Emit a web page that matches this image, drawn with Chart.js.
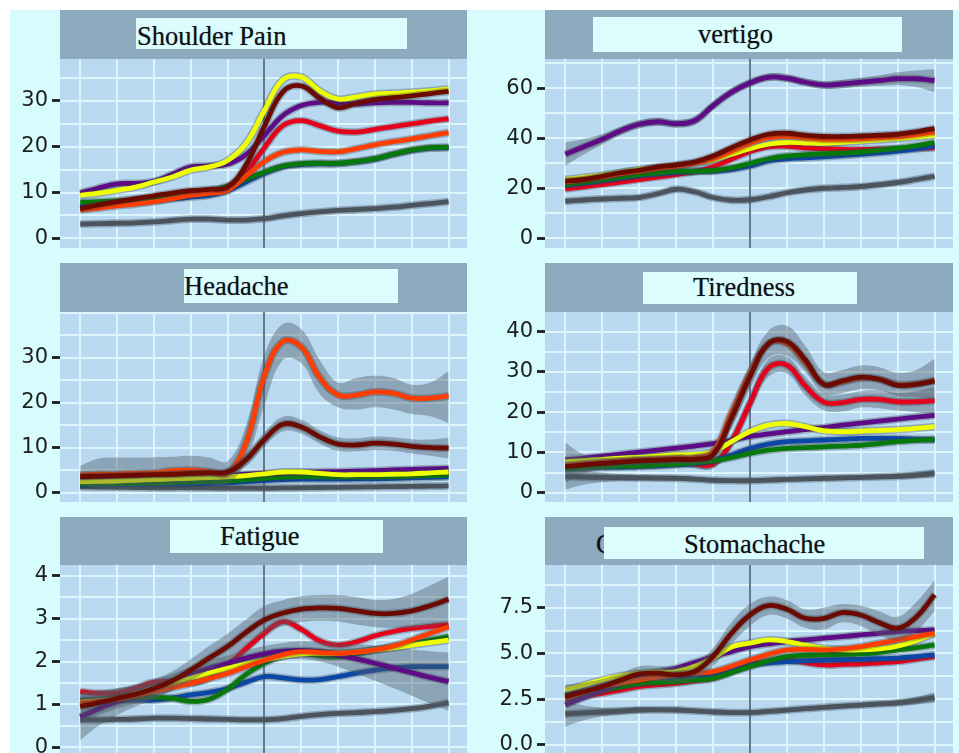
<!DOCTYPE html>
<html>
<head>
<meta charset="utf-8">
<script src="https://cdn.jsdelivr.net/npm/chart.js@4.4.0/dist/chart.umd.min.js"></script>
<style>
  html, body { margin: 0; padding: 0; }
  body { width: 959px; height: 753px; position: relative; overflow: hidden; background: #d7fcfd; }
  .edge { position: absolute; background: #ffffff; }
  .strip { position: absolute; background: #8eaabf; }
  .box { position: absolute; background: #dbfdfe; }
  .title { position: absolute; font-family: 'Liberation Serif', 'Times New Roman', serif; font-size: 26.5px;
           line-height: 1; color: #0f0f14; white-space: nowrap; text-shadow: 0 0 1px rgba(0,0,0,0.45); }
  canvas { position: absolute; }
</style>
</head>
<body>
<div class="edge" style="left:0;top:0;width:959px;height:10px"></div>
<div class="edge" style="left:0;top:0;width:10px;height:753px"></div>

<script>
// x positions shared by every curve (time axis, centred event at 5)
const xs = [0, 0.5, 1, 1.5, 2, 2.5, 3, 3.5, 4, 4.5, 5, 5.5, 6, 6.5, 7, 7.5, 8, 8.5, 9, 9.5, 10];

// groups in drawing order, bottom first
const groups = ['grey', 'red', 'blue', 'green', 'purple', 'yellow', 'orange', 'maroon'];

// ---- Shoulder Pain ----
const shoulderTicks  = [0, 10, 20, 30];
const shoulderGrey   = [3.1,3.2,3.3,3.4,3.6,3.9,4.2,4.2,4.0,4.0,4.3,4.9,5.4,5.8,6.1,6.3,6.5,6.8,7.2,7.6,8.0];
const shoulderRed    = [6.5,7.0,7.6,8.2,8.8,9.3,9.8,10.2,10.9,14.5,19.8,24.6,25.7,24.6,23.4,23.2,23.8,24.4,25.0,25.6,26.1];
const shoulderBlue   = [6.9,7.2,7.5,7.8,8.2,8.6,9.0,9.4,10.4,12.3,14.2,15.6,16.1,16.3,16.3,16.7,17.3,18.3,19.2,19.7,19.8];
const shoulderGreen  = [7.9,8.0,8.2,8.4,8.7,9.2,9.7,10.4,11.4,12.9,14.5,15.8,16.3,16.4,16.4,16.8,17.4,18.4,19.3,19.8,19.9];
const shoulderPurple = [9.9,11.0,11.9,12.0,12.4,14.0,15.6,15.8,16.2,18.3,22.5,26.8,29.0,29.7,29.5,29.3,29.6,29.7,29.7,29.6,29.6];
const shoulderYellow = [9.4,9.9,10.5,11.2,12.3,13.4,14.9,15.6,17.0,20.7,27.9,34.6,35.2,32.2,30.4,30.9,31.5,31.7,31.9,32.2,32.6];
const shoulderOrange = [6.2,6.6,7.1,7.5,8.0,8.7,9.4,9.8,10.5,13.6,16.8,18.8,19.3,19.0,18.9,19.6,20.4,21.1,21.7,22.4,23.1];
const shoulderMaroon = [6.5,7.3,8.0,8.7,9.3,9.9,10.4,10.7,11.2,16.0,24.5,32.0,33.3,30.6,28.5,29.5,30.3,30.7,31.1,31.6,32.1];

// ---- vertigo ----
const vertigoTicks  = [0, 20, 40, 60];
const vertigoGrey   = [14.8,15.3,15.7,16.0,16.3,17.8,19.6,18.6,16.3,15.2,15.4,16.6,18.2,19.3,20.0,20.3,20.7,21.4,22.3,23.5,24.8];
const vertigoRed    = [19.7,20.6,21.5,22.5,23.5,24.5,25.5,26.6,28.6,31.6,34.7,36.6,36.8,36.2,35.8,35.5,35.5,35.6,35.7,35.9,36.2];
const vertigoBlue   = [21.2,22.1,23.1,24.1,25.1,25.8,26.4,26.7,26.8,27.5,28.9,30.9,31.8,32.2,32.6,33.1,33.6,34.2,34.9,35.8,36.9];
const vertigoGreen  = [21.5,22.5,23.5,24.5,25.5,26.2,26.8,26.8,27.1,28.2,29.9,31.8,32.9,33.4,33.8,34.1,34.5,35.2,36.0,37.0,38.3];
const vertigoPurple = [33.6,36.6,39.6,43.0,45.6,46.6,45.8,47.0,53.0,58.4,62.1,64.4,64.0,62.4,61.3,61.7,62.4,63.1,63.8,63.8,63.1];
const vertigoYellow = [23.5,24.3,25.2,26.3,27.5,28.3,29.1,30.2,31.3,33.6,35.8,37.6,38.3,38.1,38.0,38.4,38.9,39.4,39.9,40.5,41.2];
const vertigoOrange = [22.5,23.4,24.5,25.8,26.8,28.0,28.8,29.9,31.8,34.8,38.0,40.2,40.8,40.2,39.6,39.6,39.8,40.2,40.7,41.5,42.5];
const vertigoMaroon = [22.8,23.5,24.8,26.2,27.2,28.5,29.3,30.5,32.9,36.2,39.3,41.6,42.0,41.2,40.7,40.7,40.9,41.2,41.6,42.6,43.9];
const vertigoPurpleLow  = [29.0,33.5,37.5,41.3,44.0,45.0,44.3,45.3,51.3,56.8,60.6,62.9,62.5,60.9,59.8,60.0,60.6,61.0,61.2,60.5,58.5];
const vertigoPurpleHigh = [38.3,39.7,41.7,44.7,47.2,48.2,47.3,48.7,54.7,60.0,63.6,65.9,65.5,63.9,62.8,63.4,64.2,65.2,66.4,67.1,67.7];

// ---- Headache ----
const headacheTicks  = [0, 10, 20, 30];
const headacheGrey   = [1.3,1.25,1.2,1.15,1.1,1.1,1.1,1.05,1.0,1.0,1.0,1.05,1.1,1.15,1.2,1.25,1.3,1.35,1.4,1.45,1.5];
const headacheRed    = [2.6,2.7,2.8,2.9,3.0,3.1,3.2,3.3,3.4,3.6,3.9,4.2,4.3,4.1,3.9,3.9,3.9,4.0,4.1,4.2,4.4];
const headacheBlue   = [1.7,1.75,1.8,1.85,1.9,1.95,2.0,2.1,2.2,2.45,2.7,2.9,3.0,3.0,3.0,3.05,3.1,3.2,3.3,3.4,3.5];
const headacheGreen  = [1.9,1.95,2.0,2.1,2.2,2.3,2.4,2.5,2.6,2.9,3.2,3.45,3.6,3.55,3.5,3.5,3.5,3.6,3.7,3.8,3.9];
const headachePurple = [2.8,2.9,3.0,3.15,3.3,3.45,3.6,3.75,3.9,4.1,4.3,4.4,4.5,4.6,4.7,4.8,4.9,5.05,5.2,5.3,5.4];
const headacheYellow = [2.4,2.5,2.6,2.75,2.9,3.05,3.2,3.35,3.5,3.8,4.2,4.6,4.6,4.3,4.0,4.0,4.0,4.1,4.2,4.4,4.6];
const headacheOrange = [3.9,4.1,4.1,4.3,4.4,4.9,5.0,4.7,4.4,11.0,26.0,33.6,32.4,25.6,21.7,21.7,22.4,22.1,21.0,21.0,21.5];
const headacheMaroon = [3.6,3.7,3.8,3.9,4.0,4.1,4.3,4.4,4.6,7.3,11.8,15.2,14.6,12.4,10.8,10.6,11.0,10.8,10.3,10.0,9.9];
const headacheOrangeLow  = [1.8,0.8,0.8,1.0,1.2,1.5,1.6,1.8,2.0,7.0,19.5,29.5,28.8,22.0,19.0,18.5,19.0,18.5,17.5,17.0,15.5];
const headacheOrangeHigh = [6.0,7.6,7.8,7.8,7.9,8.0,8.2,7.8,7.0,15.0,30.5,37.5,36.4,29.5,24.5,25.5,26.0,25.5,24.0,24.5,27.0];
const headacheMaroonLow  = [2.8,3.0,3.1,3.2,3.3,3.4,3.5,3.6,3.7,5.8,10.2,13.6,13.1,10.9,9.3,9.2,9.5,9.3,8.7,8.2,7.6];
const headacheMaroonHigh = [4.4,4.4,4.5,4.6,4.7,4.8,5.1,5.2,5.5,8.8,13.4,16.9,16.2,13.9,12.3,12.1,12.5,12.3,11.9,11.8,12.2];

// ---- Tiredness ----
const tirednessTicks  = [0, 10, 20, 30, 40];
const tirednessGrey   = [4.0,3.9,3.8,3.75,3.7,3.65,3.6,3.4,3.1,3.0,3.0,3.15,3.3,3.45,3.6,3.7,3.8,3.95,4.1,4.4,4.8];
const tirednessRed    = [6.9,7.1,7.5,7.7,7.9,8.0,7.7,7.1,7.1,12.7,22.2,31.0,31.7,26.5,22.5,22.4,23.2,23.2,22.6,22.6,22.9];
const tirednessBlue   = [6.0,6.15,6.3,6.4,6.5,6.7,6.9,7.3,7.9,9.4,11.0,12.1,12.7,12.9,13.1,13.3,13.5,13.5,13.5,13.3,13.1];
const tirednessGreen  = [6.0,6.25,6.5,6.6,6.7,6.9,7.1,7.5,7.9,8.7,9.8,10.6,11.0,11.2,11.4,11.6,11.8,12.2,12.7,13.0,13.3];
const tirednessPurple = [8.1,8.6,9.1,9.6,10.1,10.6,11.1,11.6,12.2,13.0,14.0,14.6,15.2,15.7,16.2,16.8,17.3,17.8,18.3,18.8,19.2];
const tirednessYellow = [7.7,8.0,8.3,8.6,8.8,9.1,9.4,9.5,10.2,12.7,15.2,16.8,17.2,16.4,15.4,15.2,15.3,15.5,15.7,16.0,16.4];
const tirednessOrange = [6.8,7.2,7.6,7.9,8.2,8.4,8.6,8.7,10.2,20.0,29.8,37.0,37.0,32.2,27.0,27.5,28.5,28.2,26.9,27.1,27.9];
const tirednessMaroon = [6.5,6.9,7.3,7.6,7.9,8.1,8.3,8.3,9.4,18.5,28.8,37.0,37.6,33.0,26.9,27.8,28.7,28.2,26.7,26.9,27.8];
const tirednessMaroonLow  = [2.5,4.8,5.8,6.4,6.8,7.0,7.2,7.2,8.0,16.0,25.8,33.5,34.0,30.0,24.5,24.8,25.8,25.5,24.0,23.8,23.0];
const tirednessMaroonHigh = [12.5,9.5,8.8,8.8,9.0,9.2,9.4,9.5,10.8,21.0,31.8,40.2,41.5,36.5,30.0,30.5,31.6,31.2,29.8,30.5,33.2];
const tirednessRedLow  = [5.0,5.9,6.5,6.8,7.0,7.1,6.8,6.1,6.0,11.0,20.3,28.8,29.6,24.2,20.5,20.2,21.2,21.0,20.4,20.0,19.5];
const tirednessRedHigh = [8.8,8.3,8.5,8.6,8.8,8.9,8.6,8.1,8.2,14.4,24.1,33.2,33.8,28.8,24.5,24.4,25.2,25.4,24.8,25.2,26.3];
const tirednessGreyLow  = [0.8,2.0,2.6,2.9,3.0,3.0,3.0,2.9,2.6,2.5,2.5,2.7,2.8,2.9,3.0,3.1,3.2,3.3,3.4,3.6,3.8];
const tirednessGreyHigh = [7.2,5.8,5.0,4.6,4.4,4.3,4.2,3.9,3.6,3.5,3.5,3.6,3.8,4.0,4.2,4.3,4.4,4.6,4.8,5.2,5.8];

// ---- Fatigue ----
const fatigueTicks  = [0, 1, 2, 3, 4];
const fatigueGrey   = [0.64,0.64,0.65,0.66,0.68,0.68,0.67,0.66,0.65,0.64,0.64,0.67,0.72,0.76,0.79,0.81,0.83,0.86,0.90,0.96,1.04];
const fatigueRed    = [1.30,1.26,1.27,1.38,1.52,1.53,1.50,1.62,1.92,2.30,2.66,2.93,2.75,2.48,2.38,2.46,2.60,2.70,2.77,2.82,2.86];
const fatigueBlue   = [1.10,1.10,1.10,1.10,1.10,1.15,1.22,1.28,1.37,1.52,1.65,1.62,1.57,1.58,1.65,1.73,1.80,1.85,1.88,1.88,1.88];
const fatigueGreen  = [1.06,1.10,1.14,1.17,1.17,1.14,1.07,1.12,1.35,1.70,1.96,2.13,2.19,2.13,2.11,2.18,2.27,2.35,2.42,2.50,2.58];
const fatiguePurple = [0.71,0.90,1.06,1.20,1.34,1.52,1.69,1.84,1.96,2.08,2.18,2.24,2.26,2.23,2.15,2.06,1.96,1.85,1.74,1.63,1.53];
const fatigueYellow = [1.06,1.09,1.14,1.25,1.37,1.49,1.61,1.73,1.84,1.94,2.03,2.12,2.18,2.19,2.19,2.22,2.27,2.32,2.38,2.44,2.50];
const fatigueOrange = [1.03,1.07,1.12,1.20,1.30,1.39,1.49,1.60,1.72,1.88,2.03,2.16,2.23,2.21,2.19,2.22,2.27,2.36,2.50,2.66,2.81];
const fatigueMaroon = [0.95,1.04,1.14,1.24,1.37,1.55,1.80,2.08,2.35,2.68,2.97,3.13,3.22,3.25,3.24,3.18,3.12,3.12,3.18,3.30,3.45];
const fatigueMaroonLow  = [0.60,0.75,0.90,1.02,1.15,1.33,1.55,1.80,2.05,2.38,2.65,2.83,2.92,2.95,2.93,2.86,2.80,2.78,2.78,2.83,2.90];
const fatigueMaroonHigh = [1.30,1.33,1.38,1.46,1.59,1.77,2.05,2.36,2.65,2.98,3.29,3.43,3.52,3.55,3.55,3.50,3.44,3.46,3.58,3.77,3.98];
const fatiguePurpleLow  = [0.17,0.50,0.75,0.95,1.12,1.32,1.50,1.65,1.78,1.90,2.00,2.05,2.05,2.00,1.88,1.72,1.55,1.38,1.20,1.02,0.85];
const fatiguePurpleHigh = [1.25,1.30,1.37,1.45,1.56,1.72,1.88,2.03,2.14,2.26,2.36,2.43,2.47,2.46,2.42,2.40,2.37,2.32,2.28,2.24,2.21];

// ---- Stomachache ----
const stomachTicks  = [0, 2.5, 5, 7.5];
const stomachGrey   = [1.69,1.75,1.80,1.85,1.91,1.92,1.91,1.86,1.80,1.77,1.77,1.83,1.90,1.98,2.05,2.12,2.18,2.24,2.30,2.42,2.59];
const stomachRed    = [2.46,2.64,2.82,3.00,3.19,3.28,3.37,3.50,3.64,4.00,4.37,4.55,4.64,4.50,4.37,4.40,4.43,4.49,4.55,4.69,4.83];
const stomachBlue   = [2.73,2.90,3.05,3.20,3.37,3.46,3.55,3.69,3.83,4.10,4.37,4.48,4.55,4.60,4.64,4.66,4.68,4.71,4.74,4.83,4.92];
const stomachGreen  = [2.64,2.82,3.00,3.19,3.37,3.42,3.46,3.55,3.64,3.95,4.28,4.60,4.83,4.90,4.92,4.95,4.97,5.06,5.19,5.32,5.46];
const stomachPurple = [2.19,2.60,3.00,3.38,3.73,3.98,4.19,4.50,4.83,5.10,5.37,5.52,5.65,5.74,5.83,5.92,6.01,6.10,6.19,6.24,6.28];
const stomachYellow = [3.00,3.28,3.55,3.78,3.92,3.98,4.01,4.28,4.74,5.35,5.56,5.74,5.65,5.45,5.28,5.20,5.19,5.25,5.40,5.70,6.10];
const stomachOrange = [2.55,2.87,3.19,3.38,3.55,3.70,3.83,3.92,4.01,4.30,4.64,4.95,5.19,5.22,5.19,5.25,5.37,5.55,5.74,5.92,6.10];
const stomachMaroon = [2.64,2.91,3.19,3.55,3.88,3.92,3.83,4.00,4.83,6.10,7.10,7.61,7.41,6.92,6.92,7.23,7.10,6.68,6.38,6.98,8.20];
const stomachMaroonLow  = [2.0,2.4,2.8,3.2,3.5,3.5,3.4,3.6,4.3,5.5,6.5,7.1,6.9,6.4,6.3,6.7,6.5,6.0,5.7,6.2,7.3];
const stomachMaroonHigh = [3.3,3.4,3.6,3.9,4.3,4.3,4.3,4.4,5.3,6.7,7.7,8.1,7.9,7.4,7.5,7.7,7.6,7.3,7.0,7.8,9.0];
const stomachGreyLow  = [1.0,1.35,1.55,1.65,1.75,1.78,1.78,1.74,1.68,1.65,1.65,1.70,1.78,1.86,1.93,2.00,2.06,2.10,2.14,2.22,2.30];
const stomachGreyHigh = [2.4,2.15,2.05,2.05,2.07,2.06,2.04,1.98,1.92,1.89,1.89,1.96,2.02,2.10,2.17,2.24,2.30,2.38,2.46,2.62,2.88];

// ---- styling ----
const groupColours = {
  grey: '#4b535c', red: '#e5001b', blue: '#0a47a6', green: '#07780a',
  purple: '#5e0b86', yellow: '#eeff00', orange: '#ff3d00', maroon: '#6a0a00'
};
const PANEL_BG = '#b9d9f1';
const GRID_COLOUR = '#dcf4fc';
const VLINE_COLOUR = '#66798a';
const BAND_FILL = 'rgba(78,90,102,0.42)';
const HALO = 'rgba(50,60,70,0.33)';
const TICK_COLOUR = '#1e1e1e';

// panel definitions: data links plus where each panel sits on the page
const panels = [
  { title: 'Shoulder Pain', ticks: shoulderTicks, step: 10, fmt: v => String(v),
    series: [shoulderGrey, shoulderRed, shoulderBlue, shoulderGreen, shoulderPurple, shoulderYellow, shoulderOrange, shoulderMaroon],
    bands: {},
    frame: { left: 0, top: 59, width: 467, height: 189, axis: 60, ymin: -2.1, ymax: 39.15 },
    strip: { left: 60, top: 10, width: 407, height: 49 },
    box: { left: 136, top: 18, width: 271, height: 31 },
    label: { left: 137, top: 23 } },
  { title: 'vertigo', ticks: vertigoTicks, step: 20, fmt: v => String(v),
    series: [vertigoGrey, vertigoRed, vertigoBlue, vertigoGreen, vertigoPurple, vertigoYellow, vertigoOrange, vertigoMaroon],
    bands: { purple: [vertigoPurpleLow, vertigoPurpleHigh] },
    frame: { left: 480, top: 59, width: 473, height: 189, axis: 65, ymin: -3.9, ymax: 71.7 },
    strip: { left: 545, top: 10, width: 408, height: 49 },
    box: { left: 593, top: 17, width: 309, height: 35 },
    label: { left: 698, top: 21 } },
  { title: 'Headache', ticks: headacheTicks, step: 10, fmt: v => String(v),
    series: [headacheGrey, headacheRed, headacheBlue, headacheGreen, headachePurple, headacheYellow, headacheOrange, headacheMaroon],
    bands: { orange: [headacheOrangeLow, headacheOrangeHigh], maroon: [headacheMaroonLow, headacheMaroonHigh] },
    frame: { left: 0, top: 312, width: 467, height: 190, axis: 60, ymin: -2.07, ymax: 40.15 },
    strip: { left: 60, top: 263, width: 407, height: 49 },
    box: { left: 184, top: 269, width: 214, height: 34 },
    label: { left: 184, top: 273 } },
  { title: 'Tiredness', ticks: tirednessTicks, step: 10, fmt: v => String(v),
    series: [tirednessGrey, tirednessRed, tirednessBlue, tirednessGreen, tirednessPurple, tirednessYellow, tirednessOrange, tirednessMaroon],
    bands: { maroon: [tirednessMaroonLow, tirednessMaroonHigh], red: [tirednessRedLow, tirednessRedHigh], grey: [tirednessGreyLow, tirednessGreyHigh] },
    frame: { left: 480, top: 312, width: 473, height: 190, axis: 65, ymin: -2.3, ymax: 44.9 },
    strip: { left: 545, top: 263, width: 408, height: 49 },
    box: { left: 643, top: 272, width: 214, height: 32 },
    label: { left: 693, top: 274 } },
  { title: 'Fatigue', ticks: fatigueTicks, step: 1, fmt: v => String(v),
    series: [fatigueGrey, fatigueRed, fatigueBlue, fatigueGreen, fatiguePurple, fatigueYellow, fatigueOrange, fatigueMaroon],
    bands: { maroon: [fatigueMaroonLow, fatigueMaroonHigh], purple: [fatiguePurpleLow, fatiguePurpleHigh] },
    frame: { left: 0, top: 565, width: 467, height: 188, axis: 60, ymin: -0.133, ymax: 4.25 },
    strip: { left: 60, top: 517, width: 407, height: 48 },
    box: { left: 170, top: 520, width: 213, height: 33 },
    label: { left: 220, top: 523 } },
  { title: 'Stomachache', ticks: stomachTicks, step: 2.5, fmt: v => v.toFixed(1),
    series: [stomachGrey, stomachRed, stomachBlue, stomachGreen, stomachPurple, stomachYellow, stomachOrange, stomachMaroon],
    bands: { maroon: [stomachMaroonLow, stomachMaroonHigh], grey: [stomachGreyLow, stomachGreyHigh] },
    frame: { left: 480, top: 565, width: 473, height: 188, axis: 65, ymin: -0.44, ymax: 9.83 },
    strip: { left: 545, top: 517, width: 408, height: 48 },
    box: { left: 604, top: 527, width: 320, height: 32 },
    label: { left: 684, top: 531 }, hidden: { text: 'C', left: 596, top: 531 } }
];

function place(el, r) {
  el.style.left = r.left + 'px';
  el.style.top = r.top + 'px';
  if (r.width !== undefined) el.style.width = r.width + 'px';
  if (r.height !== undefined) el.style.height = r.height + 'px';
  document.body.appendChild(el);
  return el;
}

// light panel background, white grid (major + minor) and the reference line at x = 5
const panelBackdrop = {
  id: 'panelBackdrop',
  beforeDraw(chart, args, opts) {
    const { ctx, chartArea: a, scales: { x, y } } = chart;
    ctx.save();
    ctx.fillStyle = PANEL_BG;
    ctx.fillRect(a.left, a.top, a.right - a.left, a.bottom - a.top);
    ctx.strokeStyle = GRID_COLOUR;
    ctx.lineWidth = 2;
    const half = opts.step / 2;
    for (let v = Math.ceil(y.min / half) * half; v <= y.max + 1e-9; v += half) {
      const py = Math.round(y.getPixelForValue(v));
      ctx.beginPath(); ctx.moveTo(a.left, py); ctx.lineTo(a.right, py); ctx.stroke();
    }
    for (let v = 0; v <= 10; v++) {
      if (v === 5) continue;
      const px = Math.round(x.getPixelForValue(v));
      ctx.beginPath(); ctx.moveTo(px, a.top); ctx.lineTo(px, a.bottom); ctx.stroke();
    }
    const cx = Math.round(x.getPixelForValue(5));
    ctx.strokeStyle = VLINE_COLOUR;
    ctx.lineWidth = 2;
    ctx.beginPath(); ctx.moveTo(cx, a.top); ctx.lineTo(cx, a.bottom); ctx.stroke();
    ctx.restore();
  }
};

function points(values) {
  return values.map((y, i) => ({ x: xs[i], y }));
}

function buildDatasets(p) {
  const ds = [];
  // index 0 is painted last, so push the top group first
  for (let k = groups.length - 1; k >= 0; k--) {
    const g = groups[k];
    const pts = points(p.series[k]);
    ds.push({ data: pts, borderColor: groupColours[g], borderWidth: 4.8, fill: false });
    ds.push({ data: pts, borderColor: HALO, borderWidth: 7.8, fill: false });
    const band = p.bands[g];
    if (band) {
      ds.push({ data: points(band[1]), borderWidth: 0, borderColor: 'rgba(0,0,0,0)', backgroundColor: BAND_FILL, fill: '+1' });
      ds.push({ data: points(band[0]), borderWidth: 0, borderColor: 'rgba(0,0,0,0)', fill: false });
    }
  }
  return ds;
}

panels.forEach(p => {
  place(Object.assign(document.createElement('div'), { className: 'strip' }), p.strip);
  if (p.hidden) {
    const h = Object.assign(document.createElement('div'), { className: 'title', textContent: p.hidden.text });
    place(h, p.hidden);
  }
  place(Object.assign(document.createElement('div'), { className: 'box' }), p.box);
  place(Object.assign(document.createElement('div'), { className: 'title', textContent: p.title }), p.label);

  const f = p.frame;
  const canvas = document.createElement('canvas');
  canvas.width = f.width;
  canvas.height = f.height;
  place(canvas, { left: f.left, top: f.top, width: f.width, height: f.height });

  new Chart(canvas, {
    type: 'line',
    data: { datasets: buildDatasets(p) },
    plugins: [panelBackdrop],
    options: {
      responsive: false,
      animation: false,
      devicePixelRatio: 1,
      layout: { padding: 0 },
      elements: { point: { radius: 0, hoverRadius: 0 }, line: { tension: 0.4, capBezierPoints: true } },
      plugins: { legend: { display: false }, tooltip: { enabled: false }, panelBackdrop: { step: p.step } },
      events: [],
      scales: {
        x: { type: 'linear', min: -0.55, max: 10.5, display: false },
        y: {
          type: 'linear', min: f.ymin, max: f.ymax,
          afterBuildTicks: s => { s.ticks = p.ticks.map(v => ({ value: v })); },
          afterFit: s => { s.width = f.axis; s.paddingTop = 0; s.paddingBottom = 0; },
          border: { display: false },
          grid: { drawOnChartArea: false, drawTicks: true, tickLength: 8, tickWidth: 2.8, tickColor: TICK_COLOUR },
          ticks: { padding: 4, color: TICK_COLOUR, font: { family: 'DejaVu Sans', size: 21 }, callback: v => p.fmt(v) }
        }
      }
    }
  });
});
</script>
</body>
</html>
